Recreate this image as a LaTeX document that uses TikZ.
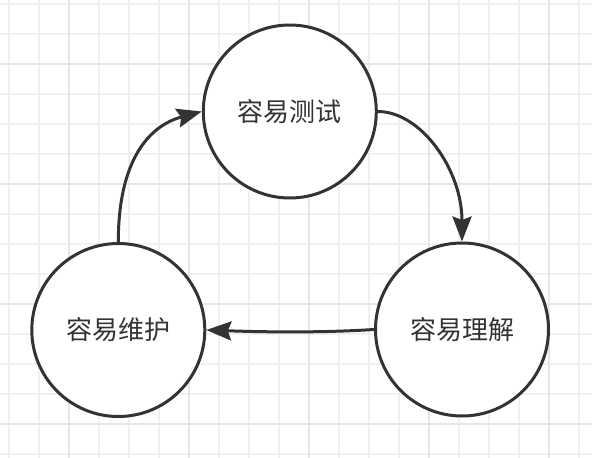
\documentclass[tikz,border=0pt]{standalone}
\usepackage{fontspec}
\newfontfamily\cjk{Noto Sans CJK SC}
\usetikzlibrary{arrows.meta}
\definecolor{ink}{RGB}{51,51,51}
\definecolor{gridminor}{RGB}{240,240,240}
\definecolor{gridmajor}{RGB}{230,230,230}
\tikzset{
  stage/.style={circle, draw=ink, fill=white, line width=3pt, minimum size=173pt, inner sep=0pt,
    text=ink, font=\cjk\fontsize{26}{30}\selectfont},
  flow/.style={draw=ink, line width=3pt, -{Stealth[length=25pt, width=19pt, inset=3.5pt]}},
  minorline/.style={draw=gridminor, line width=1.3pt},
  majorline/.style={draw=gridmajor, line width=2pt}
}
\begin{document}
\begin{tikzpicture}[x=1pt, y=-1pt]
\useasboundingbox (0,0) rectangle (592,458);
\fill[white] (0,0) rectangle (592,458);
% grid
\foreach \gx in {9,39,...,579} {\draw[minorline] (\gx,0) -- (\gx,458);}
\foreach \gy in {4,34,...,454} {\draw[minorline] (0,\gy) -- (592,\gy);}
\foreach \gx in {69,189,309,429,549} {\draw[majorline] (\gx,0) -- (\gx,458);}
\foreach \gy in {64,184,304,424} {\draw[majorline] (0,\gy) -- (592,\gy);}
% nodes
\node[stage] (test) at (289.8,111.5) {容易测试};
\node[stage] (maintain) at (118.3,330) {容易维护};
\node[stage] (understand) at (462,329.5) {容易理解};
% connectors
\draw[flow] (maintain.north) .. controls +(0,-83) and +(-52,14) .. (test.west);
\draw[flow] (test.east) .. controls +(43,0) and +(0,-72) .. (understand.north);
\draw[flow] (understand.west) .. controls +(-55,3.5) and +(55,2) .. (maintain.east);
\end{tikzpicture}
\end{document}
